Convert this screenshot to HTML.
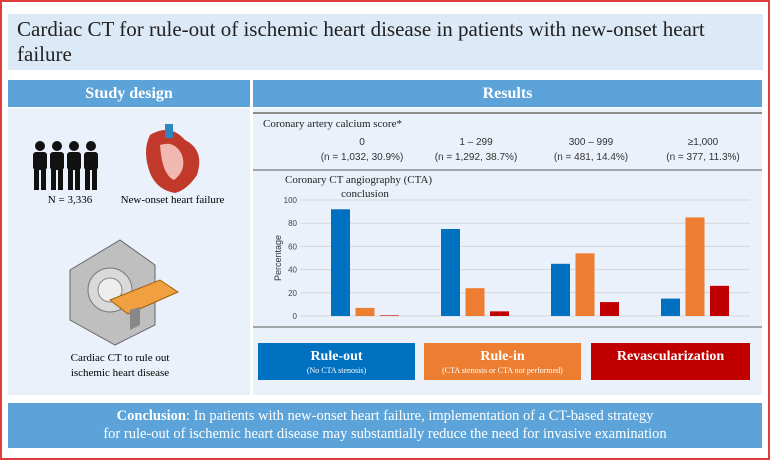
<!DOCTYPE html>
<html><head><meta charset="utf-8">
<style>
body{margin:0;width:770px;height:460px;background:#fff;position:relative;overflow:hidden;font-family:"Liberation Serif",serif}
.abs{position:absolute;box-sizing:border-box}
.hdr{background:#5ba3d9;color:#fff;font-weight:bold;font-size:16px;text-align:center;line-height:27px}
.leg{color:#fff;text-align:center;font-weight:bold;font-size:14px;line-height:16px;padding-top:6px}
.leg small{display:block;font-weight:normal;font-size:8px;line-height:12px}
</style></head><body>
<div class="abs" style="left:0;top:0;width:770px;height:460px;border:2px solid #e03c3c"></div>
<div class="abs" style="left:8px;top:14px;width:755px;height:56px;background:#dce9f6;padding:3px 9px;font-size:21px;line-height:25px;color:#222">Cardiac CT for rule-out of ischemic heart disease in patients with new-onset heart failure</div>
<div class="abs hdr" style="left:8px;top:80px;width:242px;height:27px">Study design</div>
<div class="abs hdr" style="left:253px;top:80px;width:509px;height:27px">Results</div>
<div class="abs" style="left:8px;top:108px;width:242px;height:287px;background:#eaf1fa"></div>
<div class="abs" style="left:253px;top:108px;width:509px;height:287px;background:#eaf1fa"></div>
<div class="abs" style="left:30px;top:194px;width:80px;font-size:11px;text-align:center">N = 3,336</div>
<div class="abs" style="left:115px;top:194px;width:115px;font-size:11px;text-align:center">New-onset heart failure</div>
<div class="abs" style="left:50px;top:351px;width:140px;font-size:11px;line-height:15px;text-align:center">Cardiac CT to rule out ischemic heart disease</div>
<svg class="abs" style="left:0;top:0" width="770" height="460">
 <g fill="#111">
  <circle cx="40" cy="146" r="5"/><rect x="33" y="152" width="14" height="18" rx="3"/><rect x="34" y="168" width="5" height="22"/><rect x="41" y="168" width="5" height="22"/>
  <circle cx="57" cy="146" r="5"/><rect x="50" y="152" width="14" height="18" rx="3"/><rect x="51" y="168" width="5" height="22"/><rect x="58" y="168" width="5" height="22"/>
  <circle cx="74" cy="146" r="5"/><rect x="67" y="152" width="14" height="18" rx="3"/><rect x="68" y="168" width="5" height="22"/><rect x="75" y="168" width="5" height="22"/>
  <circle cx="91" cy="146" r="5"/><rect x="84" y="152" width="14" height="18" rx="3"/><rect x="85" y="168" width="5" height="22"/><rect x="92" y="168" width="5" height="22"/>
 </g>
 <g>
  <path d="M150 135 q20 -12 35 5 q20 10 12 35 q-10 15 -22 18 q-18 -3 -25 -20 q-8 -22 0 -38z" fill="#c0392b"/>
  <path d="M160 145 q15 -5 22 10 q5 15 -8 25 q-12 -5 -14 -35z" fill="#f0b8b0"/>
  <rect x="165" y="124" width="8" height="14" fill="#2e86c1"/>
 </g>
 <g>
  <path d="M70 270 l50 -30 l35 25 l0 60 l-40 20 l-45 -25z" fill="#bfbfbf" stroke="#666"/>
  <circle cx="110" cy="290" r="22" fill="#d9d9d9" stroke="#777"/>
  <circle cx="110" cy="290" r="12" fill="#eee" stroke="#888"/>
  <path d="M110 300 l50 -20 l18 12 l-50 22z" fill="#f0a040" stroke="#a0600f"/>
  <path d="M130 310 l0 20 l10 -5 l0 -18z" fill="#888"/>
 </g>
 <g>
  <line x1="253" y1="113" x2="762" y2="113" stroke="#8c8c8c" stroke-width="2"/>
  <line x1="253" y1="170" x2="762" y2="170" stroke="#8c8c8c" stroke-width="1.5"/>
  <line x1="253" y1="327" x2="762" y2="327" stroke="#8c8c8c" stroke-width="1.5"/>
  <text x="263" y="127" font-size="11" fill="#222">Coronary artery calcium score*</text>
  <g id="cats" font-family="Liberation Sans, sans-serif" font-size="10" fill="#333" text-anchor="middle"></g>
  <text x="285" y="183" font-size="11" fill="#222">Coronary CT angiography (CTA)</text>
  <text x="365" y="197" font-size="11" fill="#222" text-anchor="middle">conclusion</text>
  <g id="grid"></g><g id="bars"></g>
  <text transform="translate(281,258) rotate(-90)" font-family="Liberation Sans, sans-serif" font-size="9" fill="#333" text-anchor="middle">Percentage</text>
 </g>
</svg>
<div class="abs leg" style="left:258px;top:343px;width:157px;height:37px;background:#0070c0">Rule-out<small>(No CTA stenosis)</small></div>
<div class="abs leg" style="left:424px;top:343px;width:157px;height:37px;background:#ed7d31">Rule-in<small>(CTA stenosis or CTA not performed)</small></div>
<div class="abs leg" style="left:591px;top:343px;width:159px;height:37px;background:#c00000">Revascularization</div>
<div class="abs" style="left:8px;top:403px;width:754px;height:45px;background:#5ba3d9;color:#fff;text-align:center;font-size:14.5px;line-height:18px;padding-top:4px"><b>Conclusion</b>: In patients with new-onset heart failure, implementation of a CT-based strategy<br>for rule-out of ischemic heart disease may substantially reduce the need for invasive examination</div>
<script>
const categories=["0","1 \u2013 299","300 \u2013 999","\u22651,000"];
const catCounts=["(n = 1,032, 30.9%)","(n = 1,292, 38.7%)","(n = 481, 14.4%)","(n = 377, 11.3%)"];
const ruleOut=[92,75,45,15];
const ruleIn=[7,24,54,85];
const revasc=[0.5,4,12,26];
const yTicks=[0,20,40,60,80,100];
const colors=["#0070c0","#ed7d31","#c00000"];
const NS="http://www.w3.org/2000/svg";
const y=v=>316-v*1.16;
const gx=i=>365+i*110;
const catX=i=>[362,476,591,703][i];
const cats=document.getElementById('cats');
categories.forEach((c,i)=>{
 const t=document.createElementNS(NS,'text');t.setAttribute('x',catX(i));t.setAttribute('y',145);t.textContent=c;
 
 
 cats.appendChild(t);
 const t2=document.createElementNS(NS,'text');t2.setAttribute('x',catX(i));t2.setAttribute('y',160);t2.textContent=catCounts[i];
 
 
 cats.appendChild(t2);
});
const grid=document.getElementById('grid');
yTicks.forEach(v=>{
 const l=document.createElementNS(NS,'line');l.setAttribute('x1',300);l.setAttribute('x2',750);l.setAttribute('y1',y(v));l.setAttribute('y2',y(v));l.setAttribute('stroke','#d6d6d6');
 
 
 grid.appendChild(l);
 const t=document.createElementNS(NS,'text');t.setAttribute('x',297);t.setAttribute('y',y(v)+3);t.setAttribute('text-anchor','end');t.setAttribute('font-size','8');t.setAttribute('font-family','Liberation Sans, sans-serif');t.setAttribute('fill','#444');t.textContent=v;
 
 
 grid.appendChild(t);
});
const bars=document.getElementById('bars');
[ruleOut,ruleIn,revasc].forEach((s,k)=>{
 s.forEach((v,i)=>{
  const r=document.createElementNS(NS,'rect');
  r.setAttribute('x',gx(i)+(k-1)*24.5-9.5);r.setAttribute('width',19);
  r.setAttribute('y',y(v));r.setAttribute('height',316-y(v));r.setAttribute('fill',colors[k]);
  
  
  bars.appendChild(r);
 });
});
</script>
</body></html>
